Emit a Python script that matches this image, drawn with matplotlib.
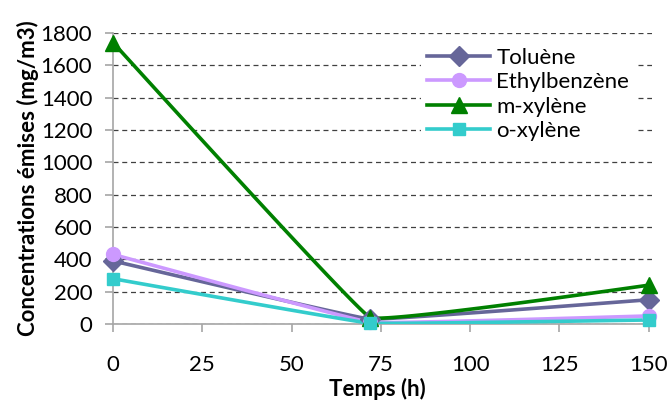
import numpy as np
import matplotlib.pyplot as plt
from matplotlib.lines import Line2D

plt.rcParams['font.family'] = ['Lato', 'DejaVu Sans']

temps = [0, 72, 150]
toluene = [390, 30, 150]
ethylbenzene = [430, 10, 50]
m_xylene = [1740, 40, 240]
o_xylene = [280, 5, 25]

series = [
    ('Toluène', toluene, '#666699', 'D', 10),
    ('Ethylbenzène', ethylbenzene, '#CC99FF', 'o', 10),
    ('m-xylène', m_xylene, '#008000', '^', 11),
    ('o-xylène', o_xylene, '#33CCCC', 's', 9),
]

# pixel-ish scale used for a light bezier smoothing of the lines
SX, SY = 539 / 150, 291 / 1800
K = 1 / 40


def smooth(x, y, n=60):
    P = np.column_stack([np.array(x, float) * SX, np.array(y, float) * SY])
    P = np.vstack([P[0], P, P[-1]])
    out = []
    for i in range(1, len(P) - 2):
        p0, p1 = P[i], P[i + 1]
        c1 = p0 + (P[i + 1] - P[i - 1]) * K
        c2 = p1 - (P[i + 2] - P[i]) * K
        t = np.linspace(0, 1, n)[:, None]
        seg = (1 - t)**3 * p0 + 3 * (1 - t)**2 * t * c1 + 3 * (1 - t) * t**2 * c2 + t**3 * p1
        out.append(seg if i == 1 else seg[1:])
    out = np.vstack(out)
    return out[:, 0] / SX, out[:, 1] / SY


fig = plt.figure(figsize=(6.69, 4.01), dpi=100)
ax = fig.add_axes([0.169, 0.192, 0.806, 0.726])

handles = []
for name, vals, col, mk, ms in series:
    sx, sy = smooth(temps, vals)
    ax.plot(sx, sy, color=col, lw=2.6, solid_capstyle='round', zorder=3)
    ax.plot(temps, vals, ls='none', marker=mk, ms=ms, color=col, clip_on=False, zorder=4)
    handles.append(Line2D([], [], color=col, lw=2.6, marker=mk, ms=ms))

ax.set_xlim(0, 151)
ax.set_ylim(0, 1800)
ax.set_xticks([0, 25, 50, 75, 100, 125, 150])
ax.set_yticks(range(0, 1801, 200))
ax.yaxis.grid(True, ls=(0, (4, 3)), color='#404040', lw=0.9)
ax.set_axisbelow(True)
for s in ['top', 'right']:
    ax.spines[s].set_visible(False)
for s in ['left', 'bottom']:
    ax.spines[s].set_color('#A6A6A6')
    ax.spines[s].set_linewidth(1.2)
ax.tick_params(axis='both', colors='#A6A6A6', length=6, width=1.2, labelcolor='black', labelsize=16)
ax.tick_params(axis='y', pad=9)
ax.tick_params(axis='x', pad=16)
ax.set_xlabel('Temps (h)', fontsize=16, fontweight='bold', va='center')
ax.xaxis.set_label_coords(0.49, -0.222)
ax.set_ylabel('Concentrations émises (mg/m3)', fontsize=16, fontweight='bold', labelpad=1)

leg = ax.legend(handles, [s[0] for s in series], loc='upper left', bbox_to_anchor=(0.55, 1.01),
                frameon=True, fontsize=16, handlelength=2.8, labelspacing=0.2, handletextpad=0.3,
                borderpad=0.3)
leg.get_frame().set_edgecolor('none')
leg.get_frame().set_facecolor('white')
leg.get_frame().set_alpha(1)

fig.savefig('out.png', dpi=100)
